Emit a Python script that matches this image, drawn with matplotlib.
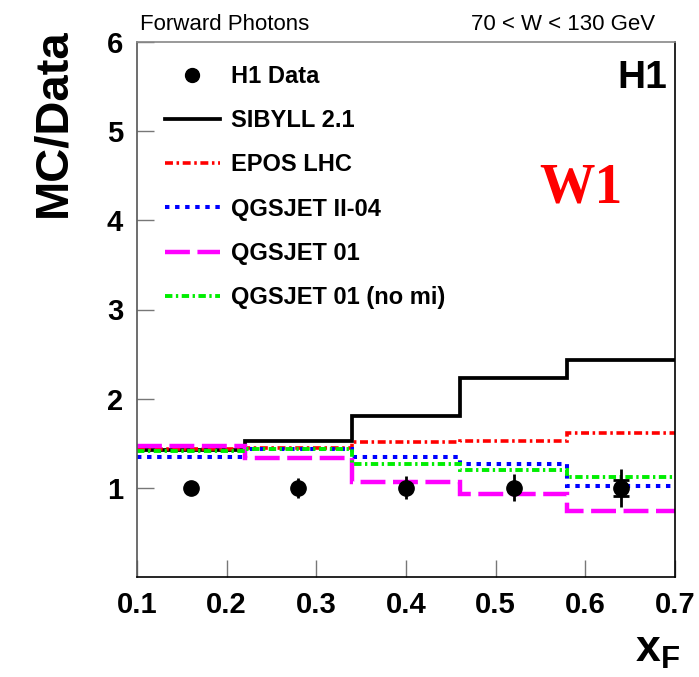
import numpy as np
import matplotlib
matplotlib.use("Agg")
import matplotlib.pyplot as plt
from matplotlib.lines import Line2D

plt.rcParams["font.family"] = ["Liberation Sans", "DejaVu Sans"]
plt.rcParams["mathtext.fontset"] = "custom"
plt.rcParams["mathtext.bf"] = "Liberation Sans:bold"
plt.rcParams["mathtext.rm"] = "Liberation Sans"

# bins in x_F and MC/Data ratios
edges = [0.10, 0.22, 0.34, 0.46, 0.58, 0.70]
xf_centres = [0.16, 0.28, 0.40, 0.52, 0.64]
data_ratio = [1.00, 1.00, 1.00, 1.00, 1.00]
data_err = [0.04, 0.11, 0.13, 0.15, 0.21]
data_sys = [0.0, 0.0, 0.0, 0.0, 0.09]

sibyll = [1.42, 1.52, 1.81, 2.23, 2.43]
epos = [1.43, 1.45, 1.51, 1.53, 1.61]
qgsjet2 = [1.35, 1.44, 1.35, 1.27, 1.02]
qgsjet01 = [1.47, 1.34, 1.07, 0.93, 0.74]
qgsjet01_nomi = [1.41, 1.43, 1.27, 1.20, 1.12]

labels = ["H1 Data", "SIBYLL 2.1", "EPOS LHC", "QGSJET II-04",
          "QGSJET 01", "QGSJET 01 (no mi)"]

fig = plt.figure(figsize=(6.99, 6.77), dpi=100)
ax = fig.add_axes([137 / 699, 100 / 677, 538 / 699, 535 / 677])

styles = [
    (sibyll, dict(color="black", lw=2.7, ls="-")),
    (epos, dict(color="red", lw=2.6, ls=(0, (2.2, 1.0, 0.7, 1.0)))),
    (qgsjet2, dict(color="blue", lw=2.9, ls=(0, (1.1, 1.4)))),
    (qgsjet01, dict(color="magenta", lw=3.2, ls=(0, (5.6, 1.7)))),
    (qgsjet01_nomi, dict(color="#00ee00", lw=2.8, ls=(0, (1.9, 0.9, 0.6, 0.9)))),
]
handles = [Line2D([], [], color="black", marker="o", ms=10, ls="none")]
for vals, st in styles:
    ax.stairs(vals, edges, baseline=None, **st)
    handles.append(Line2D([], [], **st))

# data
ax.errorbar(xf_centres, data_ratio, yerr=data_err, fmt="o", color="black",
            ms=11, elinewidth=2, capsize=0, zorder=5)
sys_x = [x for x, s in zip(xf_centres, data_sys) if s > 0]
sys_y = [y for y, s in zip(data_ratio, data_sys) if s > 0]
sys_e = [s for s in data_sys if s > 0]
ax.errorbar(sys_x, sys_y, yerr=sys_e, fmt="none", ecolor="black",
            elinewidth=2, capsize=6, capthick=2, zorder=5)

ax.set_xlim(0.1, 0.7)
ax.set_ylim(0, 6)
ax.set_xticks([0.1, 0.2, 0.3, 0.4, 0.5, 0.6, 0.7])
ax.set_xticklabels(["0.1", "0.2", "0.3", "0.4", "0.5", "0.6", "0.7"])
ax.set_yticks([1, 2, 3, 4, 5, 6])
ax.tick_params(direction="in", length=12, width=1, color="#777777",
               labelsize=21, pad=10)
for lab in ax.get_xticklabels() + ax.get_yticklabels():
    lab.set_fontweight("bold")
ax.spines["left"].set_color("#555555")
ax.spines["top"].set_color("#888888")
for sp in ax.spines.values():
    sp.set_linewidth(1.2)

ax.legend(handles, labels, loc="upper left", bbox_to_anchor=(0.035, 0.975),
          frameon=False, prop=dict(size=17, weight="bold"), handlelength=2.3,
          handletextpad=0.5, labelspacing=0.9, borderaxespad=0)

ax.text(0.985, 0.914, "H1", transform=ax.transAxes, ha="right", va="baseline",
        fontsize=28, fontweight="bold")
ax.text(0.825, 0.70, "W1", transform=ax.transAxes, ha="center", va="baseline",
        fontsize=40, fontweight="bold", color="red",
        family=["Liberation Serif", "DejaVu Serif"])

fig.text(140 / 699, 1 - 30 / 677, "Forward Photons", ha="left",
         va="baseline", fontsize=16)
fig.text(655 / 699, 1 - 30 / 677, "70 < W < 130 GeV", ha="right",
         va="baseline", fontsize=16)
fig.text(53 / 699, 1 - 28 / 677, "MC/Data", rotation=90, ha="center",
         va="top", fontsize=34, fontweight="bold")
fig.text(680 / 699, 1 - 662 / 677, r"$\mathbf{x}_\mathbf{F}$", ha="right",
         va="baseline", fontsize=32)

fig.savefig("out.png", dpi=100)
